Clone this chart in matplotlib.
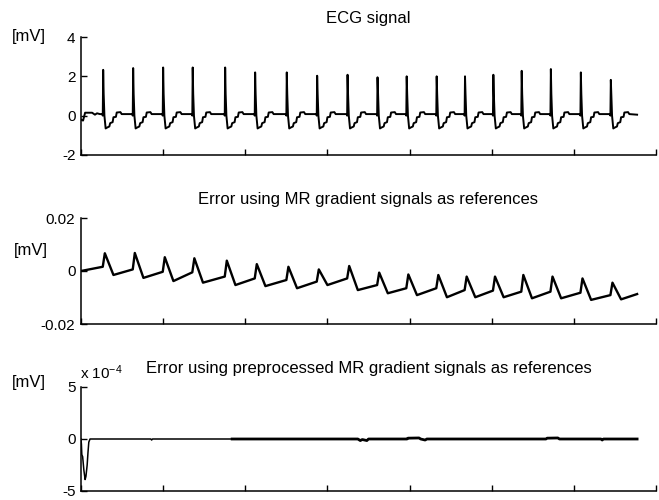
import matplotlib
matplotlib.use('Agg')
import matplotlib.pyplot as plt
import numpy as np

plt.rcParams['font.family'] = ['Liberation Sans', 'DejaVu Sans']
plt.rcParams['mathtext.default'] = 'regular'

# ---------------- data (time in s, values in mV) ----------------
beat_times = [0.54, 1.27, 2.00, 2.72, 3.51, 4.24, 5.01, 5.75, 6.49,
              7.22, 7.93, 8.66, 9.35, 10.04, 10.73, 11.44, 12.17, 12.90]
r_peaks = [2.33, 2.42, 2.45, 2.45, 2.45, 2.2, 2.2, 2.03, 2.08,
           1.95, 2.0, 2.0, 2.0, 2.08, 2.28, 2.37, 2.2, 1.82]
# single-beat shape (offset from R peak [s], value [mV]); None = R peak
beat_dt = [-0.08, -0.02, -0.01, 0.0, 0.012, 0.03, 0.06, 0.10, 0.15, 0.17,
           0.23, 0.25, 0.31, 0.33, 0.42, 0.45]
beat_val = [0.08, 0.08, 0.0, None, 1.1, 0.0, -0.65, -0.6, -0.55, -0.38,
            -0.33, -0.08, -0.06, 0.16, 0.18, 0.08]
ecg_start_t = [0.0, 0.05, 0.10, 0.27, 0.34, 0.39, 0.46]
ecg_start_v = [-0.2, -0.25, 0.15, 0.15, 0.05, 0.12, 0.08]
ecg_end_t = [13.54]
ecg_end_v = [0.05]

# error with MR gradient references (per beat: value before, peak, trough)
err_start = 0.0
err_pre = [0.0016, 0.0006, -0.0003, -0.0005, -0.0021, -0.0028, -0.0034, -0.0040, -0.0028,
           -0.0053, -0.0065, -0.0065, -0.0072, -0.0074, -0.0078, -0.0078, -0.0082, -0.0091]
err_peak = [0.0067, 0.0068, 0.0052, 0.0048, 0.0039, 0.0026, 0.0016, 0.0006, 0.0019,
            -0.0006, -0.0013, -0.0015, -0.0021, -0.0021, -0.0015, -0.0021, -0.0028, -0.0044]
err_trough = [-0.0015, -0.0026, -0.0038, -0.0044, -0.0053, -0.0057, -0.0065, -0.0053, -0.0072,
              -0.0084, -0.0091, -0.0099, -0.0099, -0.0099, -0.0103, -0.0103, -0.0109, -0.0107]
err_end = -0.0087

# error with preprocessed references
pre_t = [0.0, 0.01, 0.02, 0.04, 0.07, 0.10, 0.12, 0.15, 0.17, 0.19, 0.22,
         1.70, 1.72, 1.74, 3.68]
pre_v = [0.0, -0.5e-4, -1.5e-4, -1.7e-4, -3.0e-4, -3.9e-4, -3.6e-4, -2.5e-4, -1.3e-4, -0.3e-4, 0.0,
         0.0, -0.1e-4, 0.0, 0.0]
pre2_t = [3.68, 6.74, 6.80, 6.85, 6.96, 7.00, 7.94, 7.96, 8.23, 8.27, 8.38, 8.42,
          11.32, 11.35, 11.61, 11.65, 12.66, 12.69, 12.72, 13.54]
pre2_v = [0.0, 0.0, -0.15e-4, -0.05e-4, -0.15e-4, 0.0, 0.0, 0.08e-4, 0.1e-4, 0.0, -0.1e-4, 0.0,
          0.0, 0.08e-4, 0.1e-4, 0.0, 0.0, -0.1e-4, 0.0, 0.0]

# ---------------- build traces ----------------
ecg_t = list(ecg_start_t)
ecg_v = list(ecg_start_v)
for bt, amp in zip(beat_times, r_peaks):
    for dt, v in zip(beat_dt, beat_val):
        ecg_t.append(bt + dt)
        ecg_v.append(amp if v is None else v)
ecg_t += ecg_end_t
ecg_v += ecg_end_v

err_t = [0.0]
err_v = [err_start]
for bt, a, b, c in zip(beat_times, err_pre, err_peak, err_trough):
    err_t += [bt - 0.01, bt + 0.04, bt + 0.25]
    err_v += [a, b, c]
err_t.append(13.54)
err_v.append(err_end)

# ---------------- figure ----------------
W, H = 659, 500
fig = plt.figure(figsize=(W / 100, H / 100), dpi=100)
fs_title = 12
fs_tick = 11


def make_ax(top_px, bot_px):
    ax = fig.add_axes([81 / W, 1 - bot_px / H, (656 - 81) / W, (bot_px - top_px) / H])
    for s in ['top', 'right']:
        ax.spines[s].set_visible(False)
    for s in ['left', 'bottom']:
        ax.spines[s].set_linewidth(1.1)
    ax.set_xlim(0, 14)
    ax.set_xticks(np.arange(0, 15, 2))
    ax.set_xticklabels([])
    ax.tick_params(direction='in', length=4, width=1.0, labelsize=fs_tick, pad=4)
    return ax


ax1 = make_ax(37, 155)
ax1.plot(ecg_t, ecg_v, color='black', lw=1.4)
ax1.set_ylim(-2, 4)
ax1.set_yticks([-2, 0, 2, 4])
ax1.set_yticklabels(['-2', '0', '2', '4'])
ax1.set_title('ECG signal', fontsize=fs_title, pad=10)

ax2 = make_ax(218, 324)
ax2.plot(err_t, err_v, color='black', lw=1.7)
ax2.set_ylim(-0.02, 0.02)
ax2.set_yticks([-0.02, 0, 0.02])
ax2.set_yticklabels(['-0.02', '0', '0.02'])
ax2.set_title('Error using MR gradient signals as references', fontsize=fs_title, pad=10)

ax3 = make_ax(387, 491)
ax3.plot(pre_t, pre_v, color='black', lw=1.1)
ax3.plot(pre2_t, pre2_v, color='black', lw=2.0)
ax3.set_ylim(-5e-4, 5e-4)
ax3.set_yticks([-5e-4, 0, 5e-4])
ax3.set_yticklabels(['-5', '0', '5'])
ax3.set_title('Error using preprocessed MR gradient signals as references', fontsize=fs_title, pad=10)

fig.text(12 / W, 1 - 37 / H, '[mV]', fontsize=fs_title, va='center', ha='left')
fig.text(14 / W, 1 - 251 / H, '[mV]', fontsize=fs_title, va='center', ha='left')
fig.text(12 / W, 1 - 383 / H, '[mV]', fontsize=fs_title, va='center', ha='left')
fig.text(80 / W, 1 - 373 / H, r'x 10$^{-4}$', fontsize=fs_tick, va='center', ha='left')

fig.savefig('out.png', dpi=100)
